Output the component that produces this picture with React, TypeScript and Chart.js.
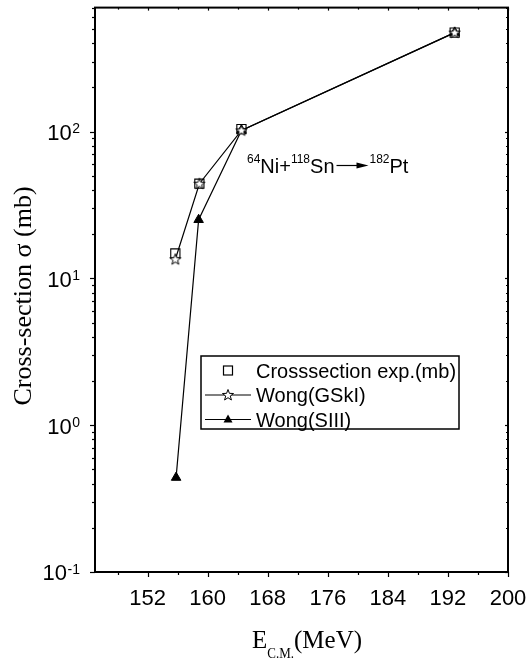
import React, { useEffect, useRef } from "react";
import { Chart, registerables } from "chart.js";

Chart.register(...registerables);

// ---- Data ----
const energyExp = [155.7, 158.9, 164.5, 192.9];
const sigmaExp = [14.8, 44.2, 104, 473];
const energyGSkI = [155.7, 158.9, 164.5, 192.9];
const sigmaGSkI = [13.5, 44.2, 102, 473];
const energySIII = [155.8, 158.8, 164.5, 192.9];
const sigmaSIII = [0.44, 25.1, 102, 473];

const xMajorTicks = [152, 160, 168, 176, 184, 192, 200];
const xMinorTicks = [148, 156, 164, 172, 180, 188, 196];
const yMajorTicks = [0.1, 1, 10, 100];
const yTickExponents = ["-1", "0", "1", "2"];
const legendLabels = ["Crosssection exp.(mb)", "Wong(GSkI)", "Wong(SIII)"];

const X_MIN = 145;
const X_MAX = 200;
const Y_MIN = 0.1;
const Y_MAX = 700;

const SY = 1.04; // slight vertical stretch of the reference's lettering
const SANS = "'Liberation Sans', Arial, sans-serif";
const SERIF = "'Liberation Serif', 'Times New Roman', serif";

function makeStar(): HTMLCanvasElement {
  const c = document.createElement("canvas");
  c.width = 14;
  c.height = 14;
  const ctx = c.getContext("2d")!;
  const cx = 7, cy = 7.3, R = 5.8, r = 2.4;
  ctx.beginPath();
  for (let i = 0; i < 10; i++) {
    const a = -Math.PI / 2 + (i * Math.PI) / 5;
    const rad = i % 2 === 0 ? R : r;
    const px = cx + rad * Math.cos(a);
    const py = cy + rad * Math.sin(a);
    if (i === 0) ctx.moveTo(px, py);
    else ctx.lineTo(px, py);
  }
  ctx.closePath();
  ctx.fillStyle = "#fff";
  ctx.fill();
  ctx.strokeStyle = "#000";
  ctx.lineWidth = 1;
  ctx.stroke();
  return c;
}

function drawText(
  ctx: CanvasRenderingContext2D,
  s: string,
  x: number,
  y: number,
  font: string,
  align: CanvasTextAlign = "left"
) {
  ctx.save();
  ctx.translate(x, y);
  ctx.scale(1, SY);
  ctx.font = font;
  ctx.textAlign = align;
  ctx.textBaseline = "alphabetic";
  ctx.fillStyle = "#000";
  ctx.fillText(s, 0, 0);
  ctx.restore();
}

function textWidth(ctx: CanvasRenderingContext2D, s: string, font: string) {
  ctx.save();
  ctx.font = font;
  const w = ctx.measureText(s).width;
  ctx.restore();
  return w;
}

function makePlugin(star: HTMLCanvasElement) {
  return {
    id: "originAxes",
    afterDraw(chart: any) {
      const ctx: CanvasRenderingContext2D = chart.ctx;
      const area = chart.chartArea;
      const xs = chart.scales.x;
      const ys = chart.scales.y;
      ctx.save();
      ctx.strokeStyle = "#000";
      ctx.fillStyle = "#000";

      // frame
      ctx.lineWidth = 2;
      ctx.strokeRect(area.left, area.top, area.right - area.left, area.bottom - area.top);

      // ticks
      ctx.lineWidth = 1.2;
      const line = (x1: number, y1: number, x2: number, y2: number) => {
        ctx.beginPath();
        ctx.moveTo(x1, y1);
        ctx.lineTo(x2, y2);
        ctx.stroke();
      };
      xMajorTicks.forEach((v) => {
        const px = Math.round(xs.getPixelForValue(v)) + 0.5;
        line(px, area.bottom, px, area.bottom + 5);
        line(px, area.top, px, area.top + 3);
      });
      xMinorTicks.forEach((v) => {
        const px = Math.round(xs.getPixelForValue(v)) + 0.5;
        line(px, area.bottom, px, area.bottom + 3);
        line(px, area.top, px, area.top + 2);
      });
      yMajorTicks.forEach((v) => {
        const py = Math.round(ys.getPixelForValue(v)) + 0.5;
        line(area.left - 5, py, area.left, py);
        line(area.right, py, area.right - 3, py);
      });
      for (const dec of yMajorTicks) {
        for (let m = 2; m <= 9; m++) {
          const v = dec * m;
          if (v > Y_MAX + 1e-9) break;
          const py = Math.round(ys.getPixelForValue(v)) + 0.5;
          line(area.left - 3, py, area.left, py);
          line(area.right, py, area.right - 2, py);
        }
      }

      // x tick labels
      const tickFont = `22px ${SANS}`;
      xMajorTicks.forEach((v) => {
        drawText(ctx, String(v), xs.getPixelForValue(v), 605, tickFont, "center");
      });

      // y tick labels 10^n
      const supFont = `14px ${SANS}`;
      const R = 80;
      yMajorTicks.forEach((v, i) => {
        const py = ys.getPixelForValue(v);
        const exp = yTickExponents[i];
        const sw = textWidth(ctx, exp, supFont);
        drawText(ctx, exp, R - sw, py + 1.5 * SY, supFont, "left");
        drawText(ctx, "10", R - sw - 0.5, py + 8 * SY, tickFont, "right");
      });

      // y axis title
      ctx.save();
      ctx.translate(24, 296);
      ctx.scale(1, SY);
      ctx.rotate(-Math.PI / 2);
      ctx.font = `25px ${SERIF}`;
      ctx.textAlign = "center";
      ctx.textBaseline = "middle";
      ctx.fillText("Cross-section \u03c3 (mb)", 0, 0);
      ctx.restore();

      // x axis title: E_C.M.(MeV)
      {
        const mainF = `25px ${SERIF}`;
        const subF = `13px ${SERIF}`;
        const wE = textWidth(ctx, "E", mainF);
        const wS = textWidth(ctx, "C.M.", subF);
        const wM = textWidth(ctx, "(MeV)", mainF);
        const total = wE + wS + wM;
        let x0 = 307 - total / 2;
        const base = 648;
        drawText(ctx, "E", x0, base, mainF);
        x0 += wE;
        drawText(ctx, "C.M.", x0, base + 10, subF);
        x0 += wS;
        drawText(ctx, "(MeV)", x0, base, mainF);
      }

      // reaction annotation
      {
        const mainF = `20px ${SANS}`;
        const supF = `12px ${SANS}`;
        const base = 173;
        const supBase = 163;
        let x = 247;
        const put = (s: string, sup: boolean) => {
          const f = sup ? supF : mainF;
          drawText(ctx, s, x, sup ? supBase : base, f);
          x += textWidth(ctx, s, f);
        };
        put("64", true);
        put("Ni+", false);
        put("118", true);
        put("Sn", false);
        x += 2;
        const ay = 165.5;
        ctx.lineWidth = 1.2;
        line(x, ay, x + 24, ay);
        ctx.beginPath();
        ctx.moveTo(x + 20, ay - 3);
        ctx.lineTo(x + 32, ay);
        ctx.lineTo(x + 20, ay + 3);
        ctx.closePath();
        ctx.fill();
        x += 33;
        put("182", true);
        put("Pt", false);
      }

      // legend
      {
        const bx = 201, by = 356, bw = 258, bh = 73;
        ctx.lineWidth = 1.5;
        ctx.strokeStyle = "#000";
        ctx.strokeRect(bx, by, bw, bh);
        const rows = [370.5, 395, 419.5];
        const symX = 228;
        const font = `20px ${SANS}`;
        ctx.lineWidth = 1.2;
        // row 1: open square
        ctx.strokeRect(symX - 4.5, rows[0] - 4.5, 9, 9);
        // row 2: line + star
        line(205, rows[1], 251, rows[1]);
        ctx.drawImage(star, symX - 7, rows[1] - 7);
        // row 3: line + filled triangle
        line(205, rows[2], 251, rows[2]);
        ctx.beginPath();
        ctx.moveTo(symX, rows[2] - 5);
        ctx.lineTo(symX + 4.5, rows[2] + 3);
        ctx.lineTo(symX - 4.5, rows[2] + 3);
        ctx.closePath();
        ctx.fill();
        legendLabels.forEach((t, i) => {
          drawText(ctx, t, 256, rows[i] + 7 * SY, font);
        });
      }

      ctx.restore();
    },
  };
}

export default function App() {
  const ref = useRef<HTMLCanvasElement>(null);

  useEffect(() => {
    const canvas = ref.current;
    if (!canvas) return;
    const star = makeStar();
    const pts = (xs: number[], ys: number[]) => xs.map((x, i) => ({ x, y: ys[i] }));
    const chart = new Chart(canvas, {
      type: "scatter",
      data: {
        datasets: [
          {
            label: legendLabels[0],
            data: pts(energyExp, sigmaExp),
            showLine: false,
            pointStyle: "rect",
            pointRadius: 6.5,
            pointBorderWidth: 1.1,
            pointBorderColor: "#000",
            pointBackgroundColor: "rgba(255,255,255,0)",
            order: 3,
          },
          {
            label: legendLabels[2],
            data: pts(energySIII, sigmaSIII),
            showLine: true,
            borderColor: "#000",
            borderWidth: 1.2,
            pointStyle: "triangle",
            pointRadius: 5.5,
            pointBorderWidth: 1,
            pointBorderColor: "#000",
            pointBackgroundColor: "#000",
            order: 2,
          },
          {
            label: legendLabels[1],
            data: pts(energyGSkI, sigmaGSkI),
            showLine: true,
            borderColor: "#000",
            borderWidth: 1.2,
            pointStyle: star as any,
            pointRadius: 6,
            order: 1,
          },
        ],
      },
      options: {
        responsive: false,
        animation: false,
        devicePixelRatio: 1,
        clip: false as any,
        layout: { padding: { left: 95, top: 6, right: 23, bottom: 90 } },
        plugins: { legend: { display: false }, tooltip: { enabled: false } },
        scales: {
          x: { type: "linear", min: X_MIN, max: X_MAX, display: false },
          y: { type: "logarithmic", min: Y_MIN, max: Y_MAX, display: false },
        },
      },
      plugins: [makePlugin(star)],
    });
    return () => chart.destroy();
  }, []);

  return (
    <div style={{ position: "fixed", left: 0, top: 0, width: 531, height: 662, background: "#fff" }}>
      <canvas ref={ref} width={531} height={662} style={{ display: "block" }} />
    </div>
  );
}
